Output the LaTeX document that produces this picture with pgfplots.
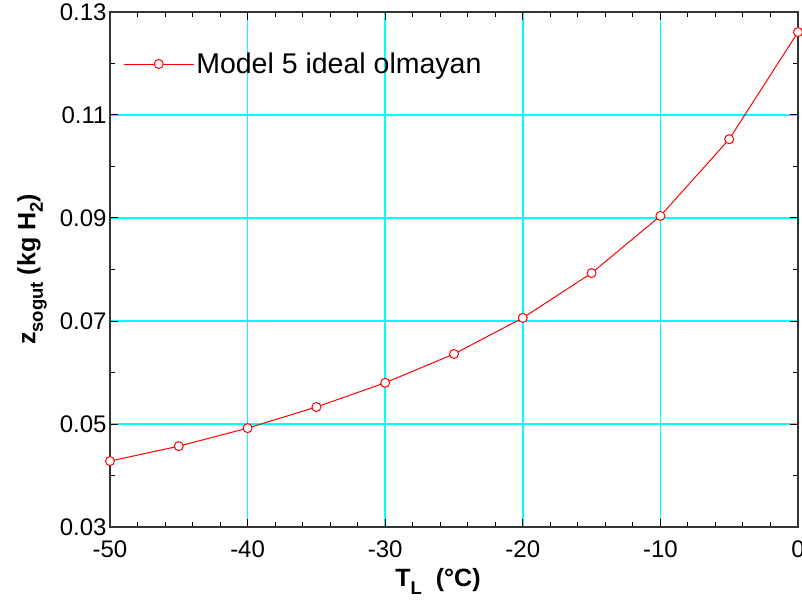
\documentclass[border=0pt]{standalone}
\usepackage{pgfplots}
\pgfplotsset{compat=1.18}
\usepackage{fontspec}
\setmainfont{Liberation Sans}
\definecolor{gridcyan}{RGB}{0,255,255}
\newcommand{\sub}[1]{\raisebox{-0.3em}{\fontsize{18.5}{18.5}\selectfont #1}}

\begin{document}
\begin{tikzpicture}
  \begin{axis}[
      scale only axis,
      width=688pt,
      height=515pt,
      xmin=-50, xmax=0,
      ymin=0.03, ymax=0.13,
      xtick={-50,-40,...,0},
      ytick={0.03,0.05,...,0.13},
      minor x tick num=4,
      minor y tick num=1,
      tick align=inside,
      major tick length=8pt,
      minor tick length=5pt,
      tick style={black, line width=1pt},
      axis line style={black!80, line width=1.2pt},
      grid=major,
      major grid style={gridcyan, line width=1.6pt},
      /pgf/number format/assume math mode=true,
      yticklabel style={/pgf/number format/fixed, /pgf/number format/fixed zerofill,
          /pgf/number format/precision=2, font=\fontsize{24}{24}\selectfont},
      xticklabel style={font=\fontsize{24}{24}\selectfont, yshift=-10pt},
      scaled y ticks=false,
      xlabel={\textbf{T\sub{L}\ \ (°C)}},
      ylabel={\textbf{z\sub{sogut} (kg H\sub{2})}},
      label style={font=\bfseries\fontsize{25}{25}\selectfont},
      xlabel style={yshift=-4pt, xshift=-16pt},
      ylabel style={yshift=6pt},
      legend style={draw=none, fill=none, at={(0.019,0.899)}, anchor=west,
          font=\fontsize{28.5}{28.5}\selectfont, inner xsep=0pt},
      legend cell align=left,
      legend image code/.code={\draw[mark repeat=2,mark phase=2,#1]
          plot coordinates {(0pt,0pt) (35pt,0pt) (70pt,0pt)};},
  ]
  % z_sogut over T_L
  \addplot[red, line width=1pt, mark=*, mark size=4.5pt,
      mark options={fill=white, draw=red, line width=1pt}] coordinates {
      (-50, 0.0428)
      (-45, 0.0457)
      (-40, 0.0492)
      (-35, 0.0533)
      (-30, 0.0580)
      (-25, 0.0636)
      (-20, 0.0706)
      (-15, 0.0793)
      (-10, 0.0904)
      (-5, 0.1053)
      (0, 0.1261)
  };
  \addlegendentry{Model 5 ideal olmayan}
  \end{axis}
  \pgfresetboundingbox
  \path[use as bounding box] (-110pt,-81pt) rectangle (692pt,527pt);
\end{tikzpicture}
\end{document}
